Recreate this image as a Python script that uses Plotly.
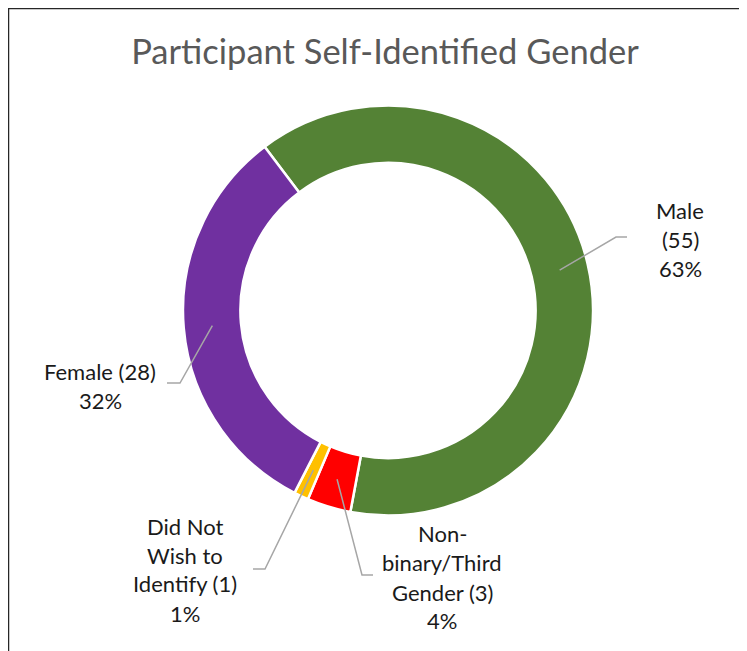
import math
import plotly.graph_objects as go

# ---------------- data ----------------
categories = ["Male", "Non-binary/Third Gender", "Did Not Wish to Identify", "Female"]
counts = [55, 3, 1, 28]
pct_labels = ["63%", "4%", "1%", "32%"]
label_lines = [
    ["Male", "(55)", "63%"],
    ["Non-", "binary/Third", "Gender (3)", "4%"],
    ["Did Not", "Wish to", "Identify (1)", "1%"],
    ["Female (28)", "32%"],
]
colors = ["#548235", "#FF0000", "#FFC000", "#7030A0"]
title_text = "Participant Self-Identified Gender"

# ---------------- layout constants (pixels, in page coordinates) ----------------
W, H = 747, 651
OFF = 8  # page body margin offset
CX, CY, R = 388, 310.5, 205
HOLE = 0.72
ROTATION = -37

def px(x):
    return (x - OFF) / W

def py(y):
    return 1 - (y - OFF) / H

# label placement: (elbow, end, text center x, list of line y)
label_layout = [
    ((616, 237), (627, 237), 680, [211, 240, 268]),
    ((362, 575), (373, 575), 442, [533, 562, 592, 620]),
    ((265, 569), (253, 569), 185, [526, 555, 583, 613]),
    ((180, 383), (167, 383), 100, [372, 400]),
]

fig = go.Figure()
fig.add_trace(go.Pie(
    labels=categories,
    values=counts,
    hole=HOLE,
    sort=False,
    direction="clockwise",
    rotation=ROTATION,
    textinfo="none",
    marker=dict(colors=colors, line=dict(color="white", width=2.5)),
    domain=dict(x=[px(CX - R), px(CX + R)], y=[py(CY + R), py(CY - R)]),
    showlegend=False,
    hoverinfo="label+value+percent",
))

# leader lines anchored at slice mid-angles (computed from data)
total = sum(counts)
cum = 0
shapes = []
annotations = []
rmid = R * (1 + HOLE) / 2
for i, c in enumerate(counts):
    mid = ROTATION + (cum + c / 2) / total * 360
    cum += c
    a = math.radians(mid)
    ax = CX + rmid * math.sin(a)
    ay = CY - rmid * math.cos(a)
    (ex, ey), (fx, fy), tx, ys = label_layout[i]
    shapes.append(dict(
        type="path", xref="paper", yref="paper",
        path=f"M {px(ax)} {py(ay)} L {px(ex)} {py(ey)} L {px(fx)} {py(fy)}",
        line=dict(color="#A6A6A6", width=1.5),
    ))
    for line, yy in zip(label_lines[i], ys):
        annotations.append(dict(
            x=px(tx), y=py(yy), xref="paper", yref="paper",
            text=line, showarrow=False, xanchor="center", yanchor="middle",
            font=dict(family="Lato, Calibri, sans-serif", size=22, color="#1a1a1a"),
        ))

# chart frame (top and left visible)
shapes.append(dict(type="line", xref="paper", yref="paper",
                   x0=px(8), y0=py(8), x1=1.01, y1=py(8),
                   line=dict(color="#262626", width=2.5)))
shapes.append(dict(type="line", xref="paper", yref="paper",
                   x0=px(8), y0=py(8), x1=px(8), y1=-0.01,
                   line=dict(color="#262626", width=2.5)))

fig.update_layout(
    width=W, height=H,
    margin=dict(l=0, r=0, t=0, b=0),
    paper_bgcolor="white",
    plot_bgcolor="white",
    title=dict(text=title_text, x=px(385), y=py(52), xanchor="center", yanchor="middle",
               font=dict(family="Lato, Calibri, sans-serif", size=34.5, color="#595959")),
    shapes=shapes,
    annotations=annotations,
)

fig.write_html("out.html")
